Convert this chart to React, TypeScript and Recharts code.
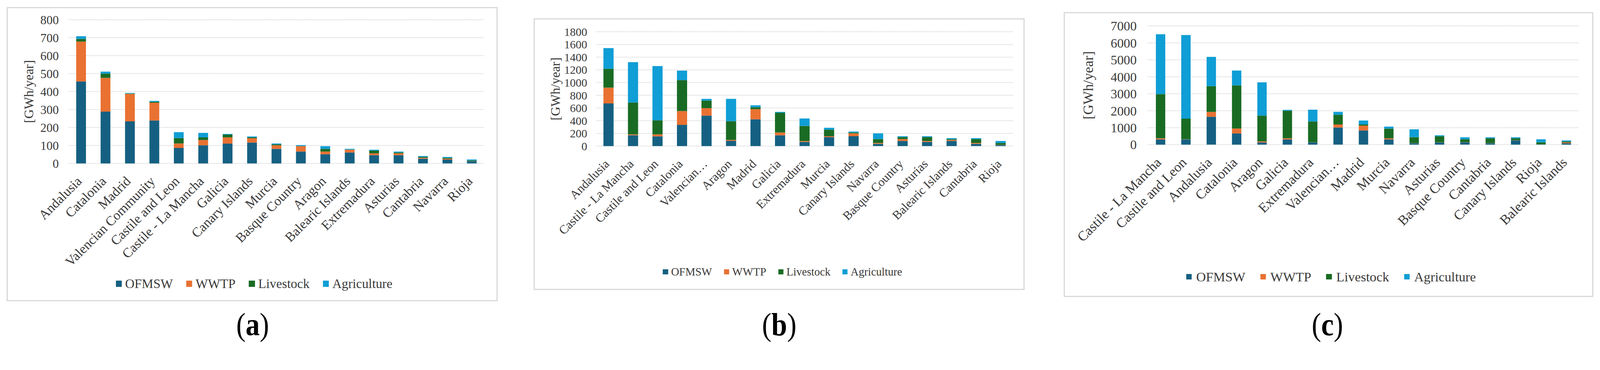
import React from 'react'
import { BarChart, Bar, XAxis, YAxis, CartesianGrid, Legend } from 'recharts'

const seriesKeys = ['ofmsw', 'wwtp', 'livestock', 'agriculture']
const seriesNames = ['OFMSW', 'WWTP', 'Livestock', 'Agriculture']
const seriesColors = ['#156082', '#E97132', '#196B24', '#0F9ED5']

// (a)
const regionsA = [
  'Andalusia', 'Catalonia', 'Madrid', 'Valencian Community', 'Castile and Leon',
  'Castile - La Mancha', 'Galicia', 'Canary Islands', 'Murcia', 'Basque Country',
  'Aragon', 'Balearic Islands', 'Extremadura', 'Asturias', 'Cantabria', 'Navarra', 'Rioja',
]
const ofmswA = [456, 288, 234, 239, 86, 101, 110, 116, 81, 66, 51, 61, 46, 46, 26, 21, 12]
const wwtpA = [222, 188, 153, 99, 25, 29, 35, 24, 20, 30, 15, 15, 10, 10, 5, 5, 1]
const livestockA = [15, 24, 2, 5, 30, 15, 15, 5, 5, 1, 15, 1, 15, 5, 5, 5, 4]
const agricultureA = [15, 11, 3, 5, 33, 25, 4, 5, 5, 5, 15, 4, 5, 5, 5, 5, 5]
const ticksA = [0, 100, 200, 300, 400, 500, 600, 700, 800]

// (b)
const regionsB = [
  'Andalusia', 'Castile - La Mancha', 'Castile and Leon', 'Catalonia', 'Valencian…',
  'Aragon', 'Madrid', 'Galicia', 'Extremadura', 'Murcia', 'Canary Islands', 'Navarra',
  'Basque Country', 'Asturias', 'Balearic Islands', 'Cantabria', 'Rioja',
]
const ofmswB = [671, 170, 153, 333, 479, 82, 421, 170, 65, 141, 155, 35, 80, 65, 80, 35, 15]
const wwtpB = [249, 14, 31, 219, 118, 14, 160, 43, 15, 14, 45, 14, 30, 15, 16, 14, 3]
const livestockB = [297, 501, 221, 487, 119, 295, 31, 311, 237, 103, 13, 61, 31, 61, 14, 61, 31]
const agricultureB = [325, 636, 855, 149, 27, 352, 30, 14, 117, 30, 16, 90, 14, 14, 15, 15, 31]
const ticksB = [0, 200, 400, 600, 800, 1000, 1200, 1400, 1600, 1800]

// (c)
const regionsC = [
  'Castile - La Mancha', 'Castile and Leon', 'Andalusia', 'Catalonia', 'Aragon', 'Galicia',
  'Extremadura', 'Valencian…', 'Madrid', 'Murcia', 'Navarra', 'Asturias', 'Basque Country',
  'Cantabria', 'Canary Islands', 'Rioja', 'Balearic Islands',
]
const ofmswC = [308, 308, 1642, 660, 132, 308, 132, 1011, 836, 308, 81, 132, 132, 81, 257, 15, 81]
const wwtpC = [66, 10, 286, 293, 59, 66, 10, 176, 285, 66, 10, 10, 10, 10, 10, 5, 51]
const livestockC = [2602, 1217, 1517, 2543, 1517, 1627, 1224, 572, 66, 571, 351, 352, 176, 285, 109, 120, 59]
const agricultureC = [3533, 4925, 1730, 873, 1964, 51, 696, 176, 235, 118, 462, 58, 117, 59, 59, 176, 58]
const ticksC = [0, 1000, 2000, 3000, 4000, 5000, 6000, 7000]

const serif = '"Liberation Serif", "Times New Roman", serif'
const textColor = '#3a3a3a'
// layout numbers below were measured on the reference; S maps them to page pixels
const S = 0.954

function toRows(names: string[], ofmsw: number[], wwtp: number[], livestock: number[], agriculture: number[]) {
  return names.map((name, i) => ({
    name,
    ofmsw: ofmsw[i],
    wwtp: wwtp[i],
    livestock: livestock[i],
    agriculture: agriculture[i],
  }))
}

const rowsA = toRows(regionsA, ofmswA, wwtpA, livestockA, agricultureA)
const rowsB = toRows(regionsB, ofmswB, wwtpB, livestockB, agricultureB)
const rowsC = toRows(regionsC, ofmswC, wwtpC, livestockC, agricultureC)

interface PanelProps {
  rows: any[]
  ticks: number[]
  box: { x: number; y: number; w: number; h: number }
  plot: { l: number; t: number; r: number; b: number }
  tickFont: number
  tickGap: number
  catFont: number
  titleX: number
  titleFont: number
  legendY: number
  legendFont: number
  legendSq: number
  legendSqGap: number
  legendGap: number
  legendShift: number
  gap: string
}

function CategoryTick(props: any) {
  const { x, y, payload, fontSize } = props
  const ax = x + 4 * S
  const ay = y + 50 * S
  return (
    <text
      x={ax}
      y={ay}
      transform={`rotate(-45 ${ax} ${ay})`}
      textAnchor="end"
      fontSize={fontSize}
      fontFamily={serif}
      fill={textColor}
    >
      {payload.value}
    </text>
  )
}

function LegendRow({ font, sq, sqGap, gap, shift, h }: any) {
  return (
    <div
      style={{
        display: 'flex',
        justifyContent: 'center',
        alignItems: 'center',
        height: h,
        transform: `translateX(${shift}px)`,
        fontFamily: serif,
        fontSize: font,
        lineHeight: 1,
        color: textColor,
      }}
    >
      {seriesNames.map((name, i) => (
        <div
          key={name}
          style={{ display: 'flex', alignItems: 'center', marginRight: i < seriesNames.length - 1 ? gap : 0 }}
        >
          <span style={{ width: sq, height: sq, background: seriesColors[i], marginRight: sqGap, display: 'inline-block' }} />
          <span>{name}</span>
        </div>
      ))}
    </div>
  )
}

function Panel(p: PanelProps) {
  const bx = p.box.x * S
  const by = p.box.y * S
  const bw = Math.round(p.box.w * S)
  const bh = Math.round(p.box.h * S)
  const pl = p.plot.l * S
  const pt = p.plot.t * S
  const pr = p.plot.r * S
  const pb = p.plot.b * S
  const legendH = Math.round(44 * S)
  const ly = p.legendY * S
  const mb = bh - (ly + legendH / 2)
  const xh = ly - legendH / 2 - pb
  const max = p.ticks[p.ticks.length - 1]
  const titleY = (pt + pb) / 2
  const titleFont = p.titleFont * S
  const tx = p.titleX * S + titleFont * 0.28

  return (
    <div style={{ position: 'absolute', left: bx, top: by, width: bw, height: bh }}>
      <BarChart
        width={bw}
        height={bh}
        data={p.rows}
        margin={{ top: pt, right: bw - pr, bottom: mb, left: 0 }}
        barCategoryGap={p.gap}
      >
        <CartesianGrid vertical={false} stroke="#cdcdcd" strokeDasharray="2 2" strokeWidth={2} />
        <XAxis
          dataKey="name"
          interval={0}
          tickLine={false}
          axisLine={false}
          tickSize={0}
          tickMargin={0}
          height={xh}
          tick={(tp: any) => <CategoryTick {...tp} fontSize={p.catFont * S} />}
        />
        <YAxis
          width={pl}
          domain={[0, max]}
          ticks={p.ticks}
          interval={0}
          axisLine={false}
          tickLine={false}
          tickSize={0}
          tickMargin={p.tickGap * S}
          tick={{ fontSize: p.tickFont * S, fontFamily: serif, fill: textColor }}
        />
        <Legend
          verticalAlign="bottom"
          wrapperStyle={{ left: 0, width: bw }}
          content={() => (
            <LegendRow
              h={legendH}
              font={p.legendFont * S}
              sq={p.legendSq * S}
              sqGap={p.legendSqGap * S}
              gap={p.legendGap * S}
              shift={p.legendShift * S}
            />
          )}
        />
        {seriesKeys.map((key, i) => (
          <Bar key={key} dataKey={key} name={seriesNames[i]} stackId="s" fill={seriesColors[i]} isAnimationActive={false} />
        ))}
        <text
          x={tx}
          y={titleY}
          transform={`rotate(-90 ${tx} ${titleY})`}
          textAnchor="middle"
          fontSize={titleFont}
          fontFamily={serif}
          fill={textColor}
        >
          [GWh/year]
        </text>
      </BarChart>
      <div
        style={{
          position: 'absolute',
          left: 0,
          top: 0,
          width: bw,
          height: bh,
          border: '3px solid #d9d9d9',
          boxSizing: 'border-box',
          pointerEvents: 'none',
        }}
      />
    </div>
  )
}

function Letter({ cx, letter }: { cx: number; letter: string }) {
  const fs = 86 * S
  const x = cx * S
  const base = 878 * S + fs * 0.26
  return (
    <text
      x={x}
      y={base}
      textAnchor="middle"
      fontSize={fs}
      fontFamily={serif}
      fill="#000"
      transform={`translate(${x} 0) scale(0.88 1) translate(${-x} 0)`}
    >
      (<tspan fontWeight="bold">{letter}</tspan>)
    </text>
  )
}

export default function App() {
  return (
    <div style={{ position: 'absolute', left: 0, top: 0, width: 4303, height: 948, background: '#fff', overflow: 'hidden' }}>
      <Panel
        rows={rowsA}
        ticks={ticksA}
        box={{ x: 18, y: 19, w: 1318, h: 790 }}
        plot={{ l: 167, t: 34, r: 1281, b: 420 }}
        tickFont={33}
        tickGap={27}
        catFont={36}
        titleX={80 - 18}
        titleFont={35}
        legendY={743}
        legendFont={35}
        legendSq={16}
        legendSqGap={9}
        legendGap={36}
        legendShift={5}
        gap="30%"
      />
      <Panel
        rows={rowsB}
        ticks={ticksB}
        box={{ x: 1432, y: 49, w: 1318, h: 730 }}
        plot={{ l: 168, t: 36, r: 1286, b: 343 }}
        tickFont={31}
        tickGap={24}
        catFont={33}
        titleX={1492 - 1432}
        titleFont={35}
        legendY={681}
        legendFont={30}
        legendSq={14}
        legendSqGap={8}
        legendGap={32}
        legendShift={9}
        gap="29.5%"
      />
      <Panel
        rows={rowsC}
        ticks={ticksC}
        box={{ x: 2854, y: 32, w: 1421, h: 765 }}
        plot={{ l: 226, t: 37, r: 1383, b: 356 }}
        tickFont={35}
        tickGap={30}
        catFont={37}
        titleX={2922 - 2854}
        titleFont={38}
        legendY={711}
        legendFont={36}
        legendSq={15}
        legendSqGap={12}
        legendGap={40}
        legendShift={7}
        gap="31.5%"
      />
      <svg width={4303} height={948} style={{ position: 'absolute', left: 0, top: 0, pointerEvents: 'none' }}>
        <Letter cx={678} letter="a" />
        <Letter cx={2091} letter="b" />
        <Letter cx={3562} letter="c" />
      </svg>
    </div>
  )
}
